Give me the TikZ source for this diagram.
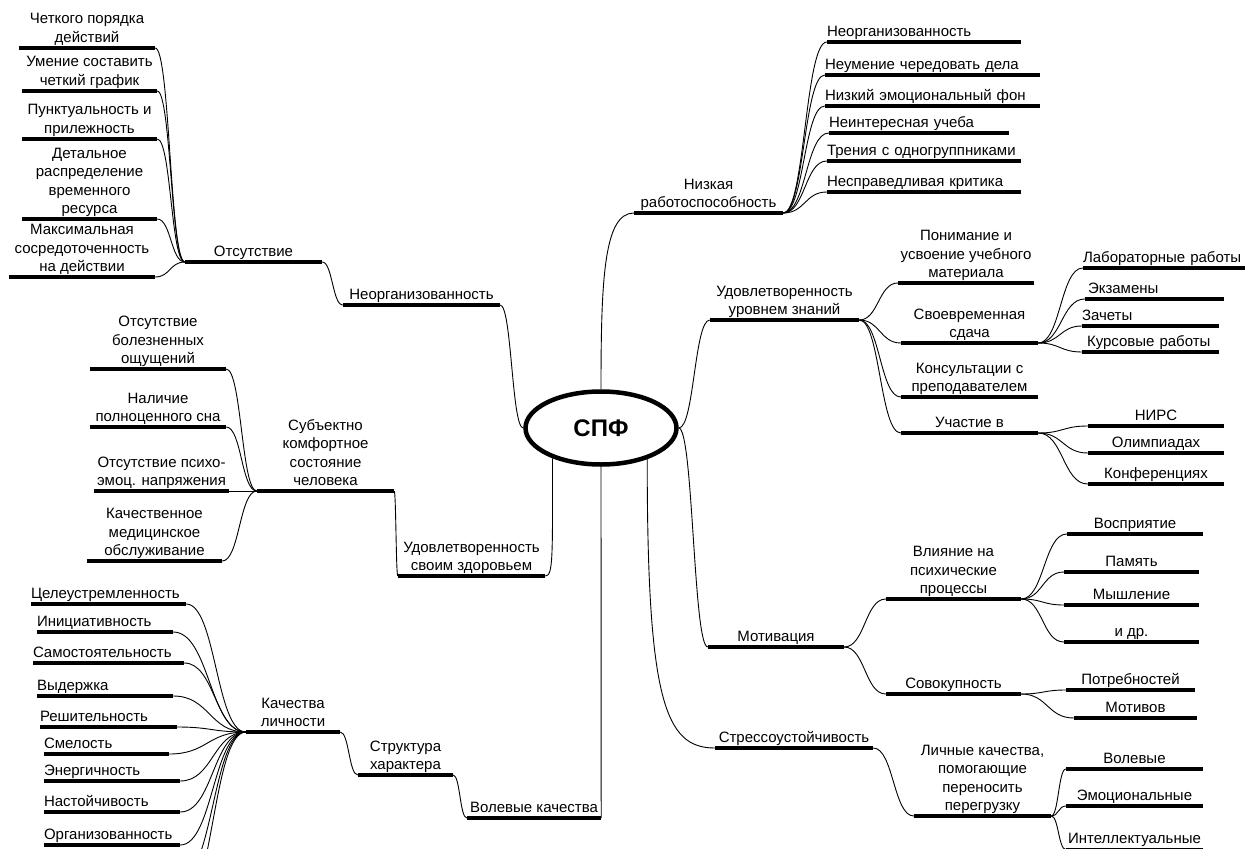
\documentclass[tikz,border=0pt]{standalone}
\usepackage{fontspec}
\setmainfont{Liberation Sans}
\usetikzlibrary{calc,shapes.geometric}
\newcommand\dstrut{\rule[-3.3pt]{0pt}{1pt}}
\begin{document}
\begin{tikzpicture}[x=1pt,y=-1pt,
 it/.style={anchor=south, inner xsep=0pt, inner ysep=2.2pt, font=\fontsize{15}{18.3}\selectfont, execute at end node=\dstrut},
 itc/.style={it, align=center, minimum width=#1},
 itl/.style={it, align=left, text width=#1},
 ul/.style={line width=4pt},
 lk/.style={line width=0.9pt},
 conn/.style={lk, to path={let \p1=(\tikztostart), \p2=(\tikztotarget) in .. controls ({0.5*\x1+0.5*\x2},\y1) and ({0.5*\x1+0.5*\x2},\y2) .. (\tikztotarget)}},
]
\useasboundingbox (0,0) rectangle (1249,848);

% centre
\node[ellipse, draw, line width=4.5pt, minimum width=151pt, minimum height=73pt, inner sep=0pt, font=\fontsize{24}{28}\selectfont\bfseries] (E) at (601,428) {СПФ};

% left top
\node[itc=136pt] (c1) at (87,48) {Четкого порядка\\действий};
\node[itc=135pt] (c2) at (89.5,91) {Умение составить\\четкий график};
\node[itc=135pt] (c3) at (89.5,139) {Пунктуальность и\\прилежность};
\node[itc=135pt] (c4) at (89.5,219) {Детальное\\распределение\\временного\\ресурса};
\node[itc=146pt] (c5) at (82,277) {Максимальная\\сосредоточенность\\на действии};
\node[itc=137pt] (otsut) at (253.5,262) {Отсутствие};
\node[itc=157pt] (neorgL) at (421.5,305) {Неорганизованность};

% middle left
\node[itc=136pt] (b1) at (158,369) {Отсутствие\\болезненных\\ощущений};
\node[itc=136pt] (b2) at (158,427) {Наличие\\полноценного сна};
\node[itc=135pt] (b3) at (161.5,491) {Отсутствие психо-\\эмоц. напряжения};
\node[itc=135pt] (b4) at (154.5,561) {Качественное\\медицинское\\обслуживание};
\node[itc=137pt] (subj) at (325.5,491) {Субъектно\\комфортное\\состояние\\человека};
\node[itc=147pt] (zdor) at (471.5,576) {Удовлетворенность\\своим здоровьем};

% lower left
\node[itl=155pt] (q1) at (108.5,604) {Целеустремленность};
\node[itl=136pt] (q2) at (105,632) {Инициативность};
\node[itl=151pt] (q3) at (108.5,663) {Самостоятельность};
\node[itl=136pt] (q4) at (105,696) {Выдержка};
\node[itl=137pt] (q5) at (108.5,727) {Решительность};
\node[itl=125pt] (q6) at (106.5,754) {Смелость};
\node[itl=136pt] (q7) at (112,781) {Энергичность};
\node[itl=136pt] (q8) at (112,812) {Настойчивость};
\node[itl=136pt] (q9) at (112,845) {Организованность};
\coordinate (qh1) at (180,878);
\coordinate (qh2) at (180,910);
\node[itc=94pt] (kach) at (293,732) {Качества\\личности};
\node[itc=95pt] (strukt) at (405.5,775) {Структура\\характера};
\node[itc=134pt] (volev) at (534,818) {Волевые качества};

% right top
\node[itc=149pt] (nizk) at (708.5,213) {Низкая\\работоспособность};
\node[itl=194pt] (r1) at (924,42) {Неорганизованность};
\node[itl=215pt] (r2) at (932.5,75) {Неумение~чередовать~дела};
\node[itl=215pt] (r3) at (932.5,106) {Низкий~эмоциональный~фон};
\node[itl=180pt] (r4) at (919,133) {Неинтересная~учеба};
\node[itl=194pt] (r5) at (924,161) {Трения~с~одногруппниками};
\node[itl=194pt] (r6) at (924,192) {Несправедливая~критика};

% right middle
\node[itc=149pt] (udov) at (784.5,320) {Удовлетворенность\\уровнем знаний};
\node[itc=136pt] (p1) at (966,283) {Понимание и\\усвоение учебного\\материала};
\node[itc=137pt] (p2) at (969.5,343) {Своевременная\\сдача};
\node[itc=137pt] (p3) at (969.5,397) {Консультации с\\преподавателем};
\node[itc=137pt] (p4) at (969.5,433) {Участие в};
\node[itl=162pt] (lab) at (1164,268) {Лабораторные~работы};
\node[itl=139pt] (ekz) at (1154.5,299) {\hspace{3pt}Экзамены};
\node[itl=137pt] (zach) at (1150.5,326) {Зачеты};
\node[itl=137pt] (kurs) at (1150.5,352) {\hspace{5pt}Курсовые~работы};
\node[itc=136pt] (nirs) at (1156,426) {НИРС};
\node[itc=136pt] (olimp) at (1156,453) {Олимпиадах};
\node[itc=136pt] (konf) at (1156,484) {Конференциях};

% right lower
\node[itc=136pt] (motiv) at (776,647) {Мотивация};
\node[itc=135pt] (vliy) at (953.5,599) {Влияние на\\психические\\процессы};
\node[itc=135pt] (sovok) at (953.5,694) {Совокупность};
\node[itc=136pt] (vospr) at (1135,534) {Восприятие};
\node[itc=135pt] (pam) at (1131.5,572) {Память};
\node[itc=135pt] (mysh) at (1131.5,605) {Мышление};
\node[itc=135pt] (idr) at (1131.5,642) {и др.};
\node[itc=129pt] (potr) at (1130.5,690) {Потребностей};
\node[itc=123pt] (motivov) at (1135.5,718) {Мотивов};
\node[itc=158pt] (stress) at (794,748) {Стрессоустойчивость};
\node[itc=137pt] (lich) at (982.5,816) {Личные качества,\\помогающие\\переносить\\перегрузку};
\node[itc=137pt] (volevye) at (1134.5,769) {Волевые};
\node[itc=137pt] (emoc) at (1134.5,806) {Эмоциональные};
\node[itc=137pt] (intel) at (1134.5,849.5) {Интеллектуальные};

% underlines
\foreach \k in {c1,c2,c3,c4,c5,otsut,neorgL,b1,b2,b3,b4,subj,zdor,q1,q2,q3,q4,q5,q6,q7,q8,q9,kach,strukt,volev,nizk,r1,r2,r3,r4,r5,r6,udov,p1,p2,p3,p4,lab,ekz,zach,kurs,nirs,olimp,konf,motiv,vliy,sovok,vospr,pam,mysh,idr,potr,motivov,stress,lich,volevye,emoc,intel}
  \draw[ul] (\k.south west) -- (\k.south east);

% connectors, left side
\foreach \k in {c1,c2,c3,c4,c5} \draw[conn] (otsut.south west) to (\k.south east);
\draw[conn] (neorgL.south west) to (otsut.south east);
\draw[conn] (E.west) to (neorgL.south east);
\foreach \k in {b1,b2,b3,b4} \draw[conn] (subj.south west) to (\k.south east);
\draw[conn] (zdor.south west) to (subj.south east);
\draw[lk] (E.212.9) .. controls +(0,100) and +(8,0) .. (zdor.south east);
\foreach \k in {q1,q2,q3,q4,q5,q6,q7,q8,q9} \draw[conn] (kach.south west) to (\k.south east);
\draw[conn] (kach.south west) to (qh1);
\draw[conn] (kach.south west) to (qh2);
\draw[conn] (strukt.south west) to (kach.south east);
\draw[conn] (volev.south west) to (strukt.south east);
\draw[lk] (E.south) -- (volev.south east);

% connectors, right side
\draw[lk] (E.north) .. controls +(0,-109) and +(-30,0) .. (nizk.south west);
\foreach \k in {r1,r2,r3,r4,r5,r6} \draw[conn] (nizk.south east) to (\k.south west);
\draw[conn] (E.east) to (udov.south west);
\foreach \k in {p1,p2,p3,p4} \draw[conn] (udov.south east) to (\k.south west);
\foreach \k in {lab,ekz,zach,kurs} \draw[conn] (p2.south east) to (\k.south west);
\foreach \k in {nirs,olimp,konf} \draw[conn] (p4.south east) to (\k.south west);
\draw[conn] (E.east) to (motiv.south west);
\foreach \k in {vliy,sovok} \draw[conn] (motiv.south east) to (\k.south west);
\foreach \k in {vospr,pam,mysh,idr} \draw[conn] (vliy.south east) to (\k.south west);
\foreach \k in {potr,motivov} \draw[conn] (sovok.south east) to (\k.south west);
\draw[lk] (E.326.6) .. controls +(0,241) and +(-50,0) .. (stress.south west);
\draw[conn] (stress.south east) to (lich.south west);
\foreach \k in {volevye,emoc,intel} \draw[conn] (lich.south east) to (\k.south west);
\end{tikzpicture}
\end{document}
